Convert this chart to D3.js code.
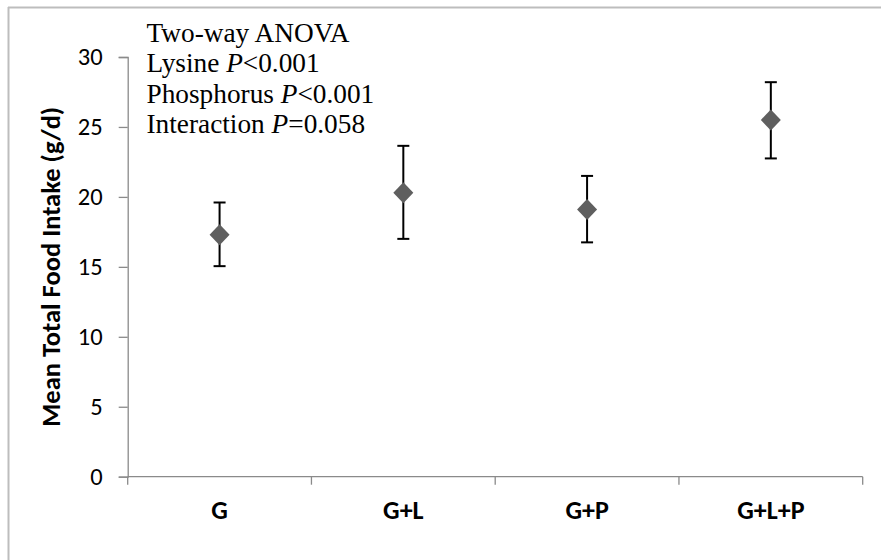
<!DOCTYPE html>
<html>
<head>
<meta charset="utf-8">
<script src="https://cdn.jsdelivr.net/npm/d3@7"></script>
<style>
  body { margin: 0; background: #fff; }
  svg { display: block; }
</style>
</head>
<body>
<script>
// Data
const groups = ["G", "G+L", "G+P", "G+L+P"];
const means = [17.3, 20.3, 19.1, 25.5];
const upper = [19.6, 23.65, 21.5, 28.2];
const lower = [15.05, 17.0, 16.75, 22.75];
const yTicks = [0, 5, 10, 15, 20, 25, 30];
const statLines = [
  ["Two-way ANOVA", "", ""],
  ["Lysine ", "P", "<0.001"],
  ["Phosphorus ", "P", "<0.001"],
  ["Interaction ", "P", "=0.058"]
];

const W = 881, H = 560;
const margin = { left: 127.7, right: 18.3, top: 57, bottom: 83.3 };
const plotW = W - margin.left - margin.right;
const plotH = H - margin.top - margin.bottom;

const svg = d3.select("body").append("svg")
  .attr("width", W)
  .attr("height", H);

// outer frame (only top and left edges visible in the reference)
svg.append("line")
  .attr("x1", 8).attr("x2", W).attr("y1", 7.5).attr("y2", 7.5)
  .attr("stroke", "#bdbdbd").attr("stroke-width", 2);
svg.append("line")
  .attr("x1", 8.5).attr("x2", 8.5).attr("y1", 7).attr("y2", H)
  .attr("stroke", "#bdbdbd").attr("stroke-width", 2);

const g = svg.append("g")
  .attr("transform", `translate(${margin.left},${margin.top})`);

const x = d3.scaleBand().domain(groups).range([0, plotW]);
const y = d3.scaleLinear().domain([0, 30]).range([plotH, 0]);

const tickFont = "Carlito, Calibri, Lato, sans-serif";

// y axis
const yAxis = g.append("g")
  .call(d3.axisLeft(y).tickValues(yTicks).tickSize(9).tickPadding(16));
yAxis.select(".domain").attr("stroke", "#8a8a8a").attr("stroke-width", 1.3);
yAxis.selectAll(".tick line").attr("stroke", "#8a8a8a").attr("stroke-width", 1.3);
yAxis.selectAll(".tick text")
  .attr("font-family", tickFont)
  .attr("font-size", 24.5)
  .attr("fill", "#000");

// x axis: ticks at the category boundaries
const xAxisG = g.append("g").attr("transform", `translate(0,${plotH})`);
xAxisG.append("line")
  .attr("x1", 0).attr("x2", plotW)
  .attr("stroke", "#8a8a8a").attr("stroke-width", 1.3);
const bounds = groups.map(d => x(d)).concat([plotW]);
xAxisG.selectAll("line.bound")
  .data(bounds)
  .enter()
  .append("line")
  .attr("class", "bound")
  .attr("x1", d => d).attr("x2", d => d)
  .attr("y1", 0).attr("y2", 8)
  .attr("stroke", "#8a8a8a").attr("stroke-width", 1.3);
xAxisG.selectAll("text")
  .data(groups)
  .enter()
  .append("text")
  .attr("x", d => x(d) + x.bandwidth() / 2)
  .attr("y", 42.5)
  .attr("text-anchor", "middle")
  .attr("font-family", tickFont)
  .attr("font-weight", "bold")
  .attr("font-size", 26)
  .text(d => d);

// y axis title
svg.append("text")
  .attr("transform", `translate(60,${margin.top + plotH / 2}) rotate(-90)`)
  .attr("text-anchor", "middle")
  .attr("font-family", tickFont)
  .attr("font-weight", "bold")
  .attr("font-size", 26.5)
  .text("Mean Total Food Intake (g/d)");

// error bars
const pts = groups.map((d, i) => ({ cat: d, mean: means[i], hi: upper[i], lo: lower[i] }));
const cx = d => x(d.cat) + x.bandwidth() / 2;

const bars = g.append("g").selectAll("g")
  .data(pts)
  .enter()
  .append("g")
  .attr("stroke", "#000")
  .attr("stroke-width", 2);
bars.append("line")
  .attr("x1", cx).attr("x2", cx)
  .attr("y1", d => y(d.hi)).attr("y2", d => y(d.lo));
bars.append("line")
  .attr("x1", d => cx(d) - 6).attr("x2", d => cx(d) + 6)
  .attr("y1", d => y(d.hi)).attr("y2", d => y(d.hi));
bars.append("line")
  .attr("x1", d => cx(d) - 6).attr("x2", d => cx(d) + 6)
  .attr("y1", d => y(d.lo)).attr("y2", d => y(d.lo));

// diamond markers
g.append("g").selectAll("path")
  .data(pts)
  .enter()
  .append("path")
  .attr("transform", d => `translate(${cx(d)},${y(d.mean)})`)
  .attr("d", "M0,-10.5L10,0L0,10.5L-10,0Z")
  .attr("fill", "#5f5f5f");

// stats annotation
const ann = svg.append("g")
  .attr("font-family", "'Liberation Serif', 'Times New Roman', serif")
  .attr("font-size", 27.3)
  .attr("fill", "#000");
statLines.forEach((parts, i) => {
  const t = ann.append("text")
    .attr("x", 146.5)
    .attr("y", 42 + i * 30.4);
  t.append("tspan").text(parts[0]);
  if (parts[1]) t.append("tspan").attr("font-style", "italic").text(parts[1]);
  if (parts[2]) t.append("tspan").text(parts[2]);
});
</script>
</body>
</html>
